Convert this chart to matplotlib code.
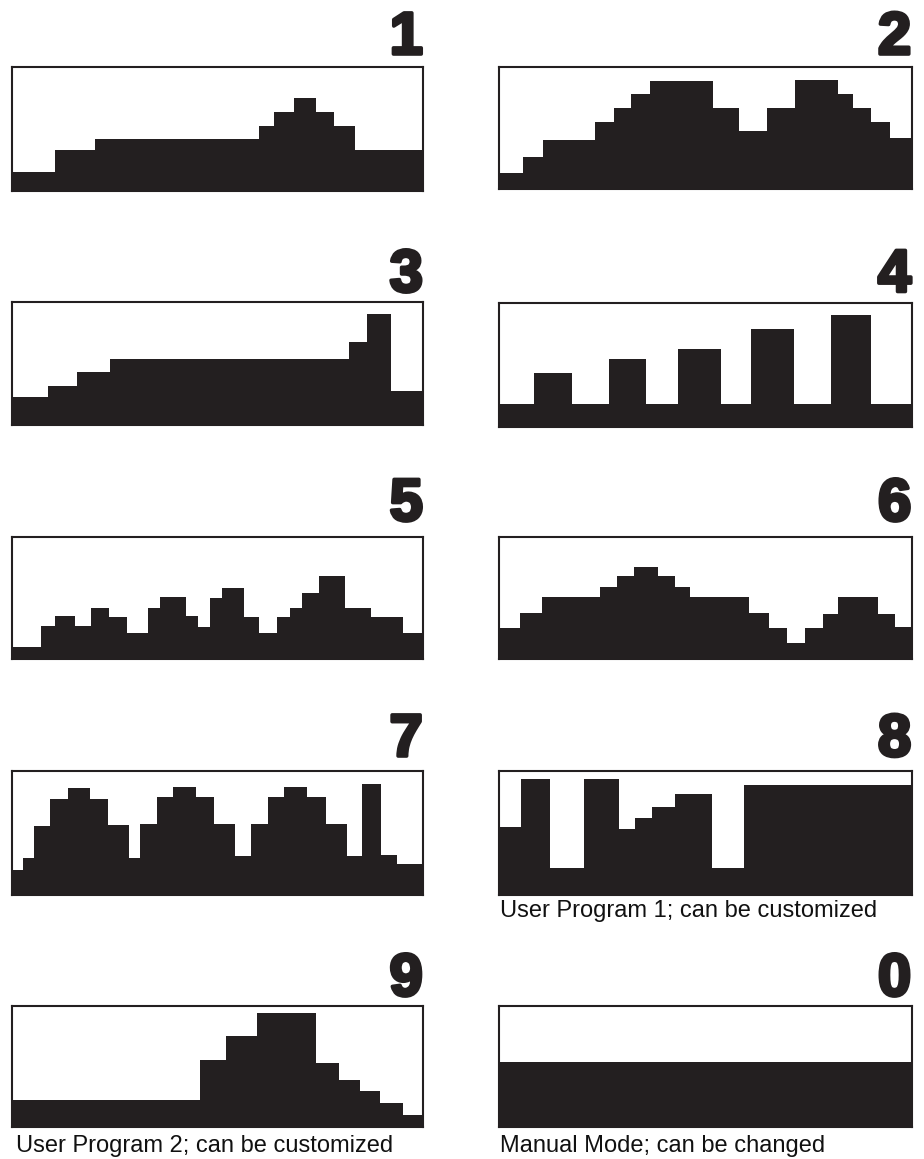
import matplotlib
matplotlib.use('Agg')
import matplotlib.pyplot as plt
import matplotlib.patheffects as pe

FILL = '#231f20'
W, H = 924, 1159

# Program numbers (row-major: left, right)
labels = ['1', '2', '3', '4', '5', '6', '7', '8', '9', '0']

# Step profiles: edges in % of duration, levels in % of max intensity
p1_edges = [0, 10.5, 20.2, 60.2, 63.7, 68.6, 73.9, 78.4, 83.4, 100]
p1_levels = [14.8, 32.8, 41.4, 52.2, 63.2, 75.0, 63.2, 52.2, 32.8]

p2_edges = [0, 5.8, 10.7, 23.3, 27.9, 32.1, 36.5, 51.8, 58.1, 65.0, 71.8, 82.1, 85.7, 90.2, 94.7, 100]
p2_levels = [13.0, 26.1, 40.0, 54.6, 66.6, 77.4, 88.3, 66.6, 47.8, 66.6, 88.9, 77.4, 66.6, 54.6, 41.6]

p3_edges = [0, 8.7, 15.8, 23.9, 81.9, 86.4, 92.1, 100]
p3_levels = [22.5, 31.7, 43.4, 53.4, 67.8, 90.0, 27.4]

p4_edges = [0, 8.4, 17.7, 26.7, 35.5, 43.4, 53.9, 61.1, 71.5, 80.5, 90.1, 100]
p4_levels = [18.4, 43.2, 18.4, 54.6, 18.4, 63.0, 18.4, 78.9, 18.4, 90.5, 18.0]

p5_edges = [0, 7.2, 10.5, 15.4, 19.2, 23.7, 27.9, 33.0, 36.0, 42.3, 45.3, 48.2, 51.0,
            56.4, 60.2, 64.4, 67.5, 70.6, 74.7, 81.0, 87.2, 95.1, 100]
p5_levels = [9.8, 27.0, 35.1, 27.0, 42.0, 34.6, 21.5, 42.0, 50.7, 35.1, 26.7, 49.9,
             58.0, 34.6, 21.3, 34.6, 42.0, 54.0, 68.4, 42.0, 34.3, 21.3]

p6_edges = [0, 5.0, 10.3, 24.4, 28.7, 32.6, 38.5, 42.6, 46.4, 60.5, 65.5, 69.8, 74.1,
            78.4, 82.1, 91.8, 96.0, 100]
p6_levels = [25.9, 38.1, 50.7, 59.4, 68.4, 75.7, 67.8, 59.4, 50.7, 37.9, 25.9, 13.4,
             25.9, 37.1, 50.7, 37.1, 26.2]

p7_edges = [0, 2.7, 5.5, 9.3, 13.6, 19.0, 23.5, 28.6, 31.2, 35.2, 39.3, 44.8, 49.2,
            54.3, 58.2, 62.2, 66.2, 71.7, 76.3, 81.4, 85.2, 89.7, 93.5, 100]
p7_levels = [20.0, 29.5, 55.7, 77.8, 86.2, 77.8, 56.2, 29.5, 57.0, 78.9, 87.6, 78.9,
             57.3, 31.4, 57.0, 78.9, 87.6, 78.9, 57.3, 31.4, 89.5, 32.2, 24.9]

p8_edges = [0, 5.3, 12.4, 20.7, 29.0, 33.0, 37.1, 42.7, 51.6, 59.3, 100]
p8_levels = [54.9, 94.1, 21.9, 94.1, 53.0, 62.2, 71.4, 81.9, 21.9, 88.6]

p9_edges = [0, 45.7, 52.1, 59.5, 73.9, 79.4, 84.5, 89.5, 95.1, 100]
p9_levels = [22.4, 55.4, 75.1, 94.7, 52.6, 39.1, 29.6, 19.7, 9.7]

p0_edges = [0, 100]
p0_levels = [53.7]

captions = {'8': 'User Program 1; can be customized',
            '9': 'User Program 2; can be customized',
            '0': 'Manual Mode; can be changed'}

profiles = [(p1_edges, p1_levels), (p2_edges, p2_levels), (p3_edges, p3_levels),
            (p4_edges, p4_levels), (p5_edges, p5_levels), (p6_edges, p6_levels),
            (p7_edges, p7_levels), (p8_edges, p8_levels), (p9_edges, p9_levels),
            (p0_edges, p0_levels)]

# layout (pixels)
col_x = [(11.7, 423.3), (499.0, 911.7)]
row_y = [[(66.7, 190.7), (66.7, 189.3)],
         [(302.0, 425.0), (303.3, 426.7)],
         [(537.0, 659.3), (537.0, 659.3)],
         [(771.3, 894.7), (771.3, 894.7)],
         [(1006.3, 1126.7), (1006.3, 1126.7)]]
digit_base = [54, 291.5, 520.5, 756, 995.5]

fig = plt.figure(figsize=(W / 100, H / 100), dpi=100)
fig.patch.set_facecolor('white')

for i, (lab, (edges, levels)) in enumerate(zip(labels, profiles)):
    r, c = divmod(i, 2)
    x0, x1 = col_x[c]
    y0, y1 = row_y[r][c]
    ax = fig.add_axes([x0 / W, 1 - y1 / H, (x1 - x0) / W, (y1 - y0) / H])
    ax.stairs(levels, edges, baseline=0, fill=True, color=FILL, linewidth=0)
    ax.set_xlim(0, 100)
    ax.set_ylim(0, 100)
    ax.set_xticks([])
    ax.set_yticks([])
    for s in ax.spines.values():
        s.set_linewidth(1.5)
        s.set_color(FILL)
        s.set_zorder(5)
    fig.text((x1 - 0.5) / W, 1 - digit_base[r] / H, lab, ha='right', va='baseline',
             fontsize=43, fontfamily='Liberation Sans', fontweight='bold', color=FILL,
             path_effects=[pe.withStroke(linewidth=2.6, foreground=FILL,
                                         joinstyle='round', capstyle='round')])
    if lab in captions:
        cx = 500 if c == 1 else 16
        cy = 916.7 if lab == '8' else 1152.3
        fig.text(cx / W, 1 - cy / H, captions[lab], ha='left', va='baseline',
                 fontsize=17, fontfamily='Liberation Sans', color='#111111')

fig.savefig('out.png', dpi=100, facecolor='white')
